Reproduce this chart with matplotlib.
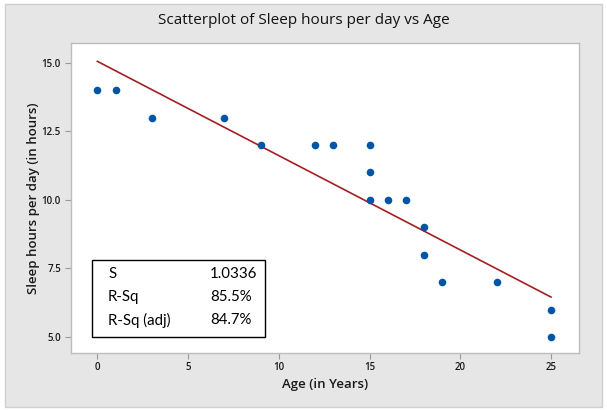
import numpy as np
import matplotlib
matplotlib.use("Agg")
import matplotlib.pyplot as plt
from matplotlib.patches import Rectangle

age = [0, 1, 3, 7, 9, 12, 13, 15, 15, 15, 16, 17, 18, 18, 19, 22, 25, 25]
sleep = [14, 14, 13, 13, 12, 12, 12, 12, 11, 10, 10, 10, 9, 8, 7, 7, 6, 5]
xticks = [0, 5, 10, 15, 20, 25]
yticks = [5.0, 7.5, 10.0, 12.5, 15.0]
stat_names = ["S", "R-Sq", "R-Sq (adj)"]
stat_values = ["1.0336", "85.5%", "84.7%"]

plt.rcParams['font.family'] = ['Open Sans', 'DejaVu Sans']

W, H = 607, 411
fig = plt.figure(figsize=(W / 100, H / 100), dpi=100, facecolor='white')

# outer grey panel
fig.patches.append(Rectangle((5 / W, 4 / H), (W - 10) / W, (H - 8) / H,
                             transform=fig.transFigure, facecolor='#E6E6E6',
                             edgecolor='#CFCFCF', linewidth=1.0, zorder=-5))

AX_L, AX_R, AX_T, AX_B = 70.7, 578.6, 43.3, 352.7
ax = fig.add_axes([AX_L / W, 1 - AX_B / H, (AX_R - AX_L) / W, (AX_B - AX_T) / H])
ax.set_zorder(2)
ax.set_facecolor('white')

x = np.array(age, dtype=float)
y = np.array(sleep, dtype=float)
slope, intercept = np.polyfit(x, y, 1)
xl = np.array([x.min(), x.max()])
ax.plot(xl, intercept + slope * xl, color='#A51E22', linewidth=1.2, zorder=2)
ax.scatter(x, y, s=30, color='#0055A5', zorder=3, linewidths=0)

ax.set_xlim(-1.47, 26.52)
ax.set_ylim(4.43, 15.71)
ax.set_xticks(xticks)
ax.set_xticklabels([str(t) for t in xticks])
ax.set_yticks(yticks)
ax.set_yticklabels([f"{t:.1f}" for t in yticks])
ax.tick_params(axis='both', labelsize=7, colors='#9A9A9A', length=4, width=0.8,
               labelcolor='#1A1A1A', pad=3)
for lab in ax.get_xticklabels() + ax.get_yticklabels():
    lab.set_fontweight('semibold')
for s in ax.spines.values():
    s.set_color('#BDBDBD')
    s.set_linewidth(1.0)

ax.set_xlabel("Age (in Years)", fontsize=9.5, color='#1A1A1A', labelpad=3,
              fontweight='semibold')
ax.set_ylabel("Sleep hours per day (in hours)", fontsize=9.5, color='#1A1A1A',
              labelpad=1, fontweight='semibold')
fig.text(0.5, 1 - 20 / H, "Scatterplot of Sleep hours per day vs Age",
         ha='center', va='center', fontsize=11, color='#111111')

# stats box
aw, ah = AX_R - AX_L, AX_B - AX_T
bx0, bx1 = (92 - AX_L) / aw, (265 - AX_L) / aw
by0, by1 = (AX_B - 337) / ah, (AX_B - 260) / ah
ax.add_patch(Rectangle((bx0, by0), bx1 - bx0, by1 - by0, transform=ax.transAxes,
                       facecolor='white', edgecolor='black', linewidth=1.0, zorder=4))
rows_y = [274, 297, 320]
for name, val, ry in zip(stat_names, stat_values, rows_y):
    ty = (AX_B - ry) / ah
    ax.text((108 - AX_L) / aw, ty, name, transform=ax.transAxes, fontsize=10.8,
            va='center', ha='left', color='black', zorder=5, family=['Lato', 'DejaVu Sans'])
    ax.text((210 - AX_L) / aw, ty, val, transform=ax.transAxes, fontsize=10.8,
            va='center', ha='left', color='black', zorder=5, family=['Lato', 'DejaVu Sans'])

fig.savefig("out.png", dpi=100, facecolor=fig.get_facecolor())
